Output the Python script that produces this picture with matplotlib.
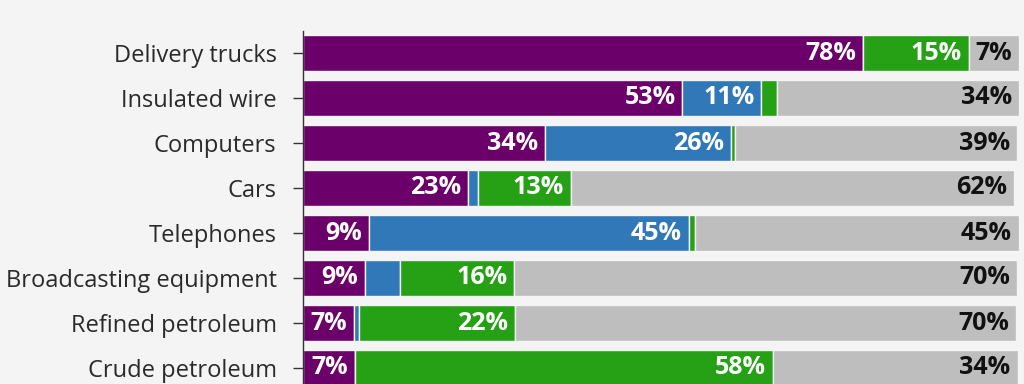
import matplotlib
matplotlib.use("Agg")
import matplotlib.pyplot as plt
import numpy as np

categories = ["Delivery trucks", "Insulated wire", "Computers", "Cars",
              "Telephones", "Broadcasting equipment", "Refined petroleum",
              "Crude petroleum"]
purple_vals = [78.2, 53.0, 33.8, 23.0, 9.2, 8.7, 7.1, 7.2]
blue_vals = [0.0, 11.0, 26.0, 1.4, 44.7, 4.9, 0.7, 0.0]
green_vals = [14.8, 2.2, 0.5, 13.0, 0.9, 15.9, 21.8, 58.4]
gray_vals = [7.0, 33.8, 39.4, 61.9, 45.2, 70.2, 70.0, 34.2]

series = [purple_vals, blue_vals, green_vals, gray_vals]
colors = ["#6b006a", "#3178b9", "#26a116", "#bebebe"]
text_colors = ["white", "white", "white", "#111111"]

bg = "#f4f4f4"
plt.rcParams['font.family'] = ['Open Sans', 'DejaVu Sans']

fig = plt.figure(figsize=(10.24, 3.84), dpi=100, facecolor=bg)
ax = fig.add_axes([303/1024, 0.0, (1019-303)/1024, 353/384])
ax.set_facecolor(bg)

y = np.arange(len(categories))
left = np.zeros(len(categories))
for vals, c, tc in zip(series, colors, text_colors):
    vals = np.array(vals)
    ax.barh(y, vals, left=left, height=0.82, color=c, edgecolor=bg,
            linewidth=1.0)
    for yi, (l, v) in enumerate(zip(left, vals)):
        if v >= 6.5:
            ax.annotate(f"{int(round(v))}%", xy=(l + v, yi),
                        xytext=(-5, 0), textcoords="offset points",
                        ha="right", va="center", color=tc,
                        fontsize=18, fontweight="bold")
    left = left + vals

ax.set_xlim(0, 100)
ax.set_ylim(7 + 16/45, -22/45)
ax.set_yticks(y)
ax.set_yticklabels(categories, fontsize=17, color="#2a2a2a")
ax.tick_params(axis="y", length=7, width=1, color="#333333", pad=12)
ax.set_xticks([])
for s in ["top", "right", "bottom"]:
    ax.spines[s].set_visible(False)
ax.spines["left"].set_color("#333333")
ax.spines["left"].set_linewidth(1)

fig.savefig("out.png", dpi=100, facecolor=bg)
